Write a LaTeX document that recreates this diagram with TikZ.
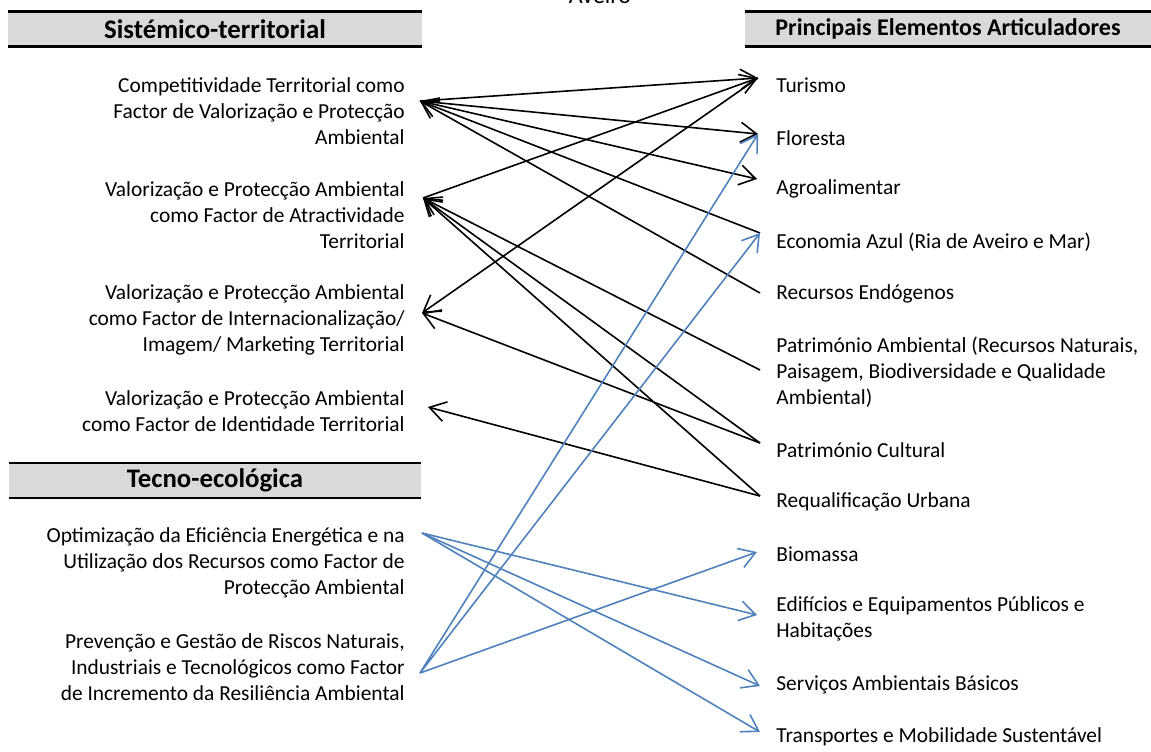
\documentclass[tikz,border=0pt]{standalone}
\usepackage{fontspec}
\setmainfont{Carlito}
\usepackage{tikz}
\usetikzlibrary{arrows.meta}
\usepackage{xcolor}
\definecolor{hdrgray}{RGB}{217,217,217}
\definecolor{linkblue}{RGB}{79,129,189}

\begin{document}
\begin{tikzpicture}[x=0.5pt, y=-0.5pt,
  every node/.style={inner sep=0pt, font=\fontsize{10.7}{13}\selectfont},
  lefttxt/.style={anchor=east, align=right},
  righttxt/.style={anchor=west, align=left},
  hdr/.style={fill=hdrgray, minimum height=17pt, font=\fontsize{13.4}{15}\selectfont\bfseries},
  hdrline/.style={line width=1.2pt},
  link/.style={-{Straight Barb[length=8pt,width=10pt]}, line width=0.8pt},
  blink/.style={link, linkblue}]
  \useasboundingbox (0,0) rectangle (1151,751);

  \node[anchor=base, font=\fontsize{12}{14}\selectfont] (aveiro) at (600,3) {Aveiro};

  % headers
  \node[hdr, minimum width=207pt] (hsis) at (215,29) {Sistémico-territorial};
  \node[hdr, minimum width=203pt, font=\fontsize{12}{14}\selectfont\bfseries] (hpea) at (948,29) {Principais Elementos Articuladores};
  \node[hdr, minimum width=206pt] (htec) at (215,480.5) {Tecno-ecológica};
  \foreach \h in {hsis,hpea,htec} {
    \draw[hdrline] (\h.north west) -- (\h.north east);
    \draw[hdrline] (\h.south west) -- (\h.south east);
  }

  % left column
  \node[lefttxt] (comp) at (405,111) {Competitividade Territorial como\\Factor de Valorização e Protecção\\Ambiental};
  \node[lefttxt] (atra) at (405,215) {Valorização e Protecção Ambiental\\como Factor de Atractividade\\Territorial};
  \node[lefttxt] (inter) at (405,320) {Valorização e Protecção Ambiental\\como Factor de Internacionalização/\\Imagem/ Marketing Territorial};
  \node[lefttxt] (ident) at (405,411) {Valorização e Protecção Ambiental\\como Factor de Identidade Territorial};
  \node[lefttxt] (optim) at (405,563) {Optimização da Eficiência Energética e na\\Utilização dos Recursos como Factor de\\Protecção Ambiental};
  \node[lefttxt] (prev) at (405,667) {Prevenção e Gestão de Riscos Naturais,\\Industriais e Tecnológicos como Factor\\de Incremento da Resiliência Ambiental};

  % right column
  \node[righttxt] (tur) at (776,85) {Turismo};
  \node[righttxt] (flo) at (776,138) {Floresta};
  \node[righttxt] (agro) at (776,189) {Agroalimentar};
  \node[righttxt] (econ) at (776,242) {Economia Azul (Ria de Aveiro e Mar)};
  \node[righttxt] (rend) at (776,294) {Recursos Endógenos};
  \node[righttxt] (pamb) at (776,372) {Património Ambiental (Recursos Naturais,\\Paisagem, Biodiversidade e Qualidade\\Ambiental)};
  \node[righttxt] (pcul) at (776,450) {Património Cultural};
  \node[righttxt] (requ) at (776,502) {Requalificação Urbana};
  \node[righttxt] (biom) at (776,554) {Biomassa};
  \node[righttxt] (edif) at (776,619) {Edifícios e Equipamentos Públicos e\\Habitações};
  \node[righttxt] (serv) at (776,685) {Serviços Ambientais Básicos};
  \node[righttxt] (trans) at (776,737) {Transportes e Mobilidade Sustentável};

  % link ends
  \coordinate (comp-p) at (420,101);
  \coordinate (atra-p) at (423,198);
  \coordinate (inter-p) at (422,313);
  \coordinate (ident-p) at (428,407);
  \coordinate (optim-p) at (422,533);
  \coordinate (prev-p) at (420,673);
  \coordinate (tur-p) at (758,78);
  \coordinate (flo-p) at (758,134);
  \coordinate (agro-p) at (757,179);
  \coordinate (econ-p) at (760,233);
  \coordinate (rend-p) at (760,293);
  \coordinate (pamb-p) at (760,370);
  \coordinate (pcul-p) at (760,443);
  \coordinate (requ-p) at (760,496);
  \coordinate (biom-p) at (757,552);
  \coordinate (edif-p) at (757,615);
  \coordinate (serv-p) at (760,686);
  \coordinate (trans-p) at (760,732);

  % black links
  \draw[link] (comp-p) -- (tur-p);
  \draw[link] (comp-p) -- (flo-p);
  \draw[link] (comp-p) -- (agro-p);
  \draw[link] (econ-p) -- (comp-p);
  \draw[link] (rend-p) -- (comp-p);
  \draw[link] (atra-p) -- (tur-p);
  \draw[link] (pamb-p) -- (atra-p);
  \draw[link] (pcul-p) -- (atra-p);
  \draw[link] (requ-p) -- (atra-p);
  \draw[link, {Straight Barb[length=8pt,width=10pt]}-] (inter-p) -- (tur-p);
  \draw[link] (pcul-p) -- (inter-p);
  \draw[link, {Straight Barb[length=8pt,width=10pt]}-] (ident-p) -- (requ-p);

  % blue links
  \draw[blink] (prev-p) -- (flo-p);
  \draw[blink] (prev-p) -- (econ-p);
  \draw[blink] (prev-p) -- (biom-p);
  \draw[blink] (optim-p) -- (edif-p);
  \draw[blink] (optim-p) -- (serv-p);
  \draw[blink] (optim-p) -- (trans-p);
\end{tikzpicture}
\end{document}
